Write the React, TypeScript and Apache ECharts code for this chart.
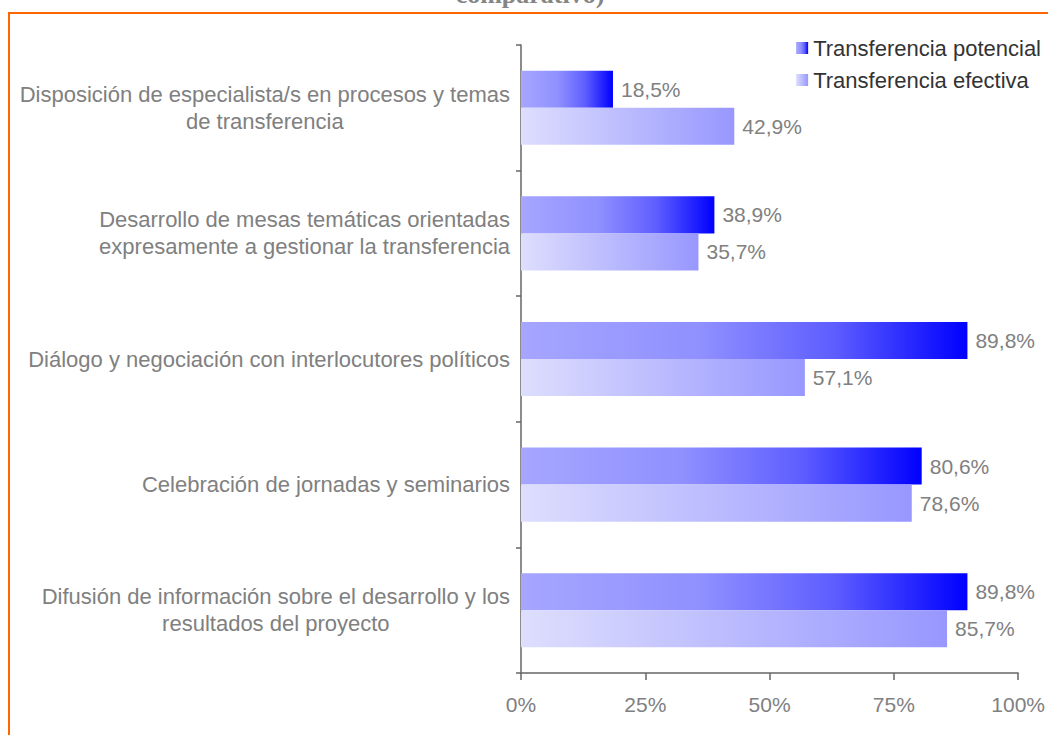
import React, { useEffect, useRef } from "react";
import * as echarts from "echarts";

// Categories from bottom to top (ECharts category axis goes upward)
const categories = [
  "Difusión de información sobre el desarrollo y los\nresultados del proyecto",
  "Celebración de jornadas y seminarios",
  "Diálogo y negociación con interlocutores políticos",
  "Desarrollo de mesas temáticas orientadas\nexpresamente a gestionar la transferencia",
  "Disposición de especialista/s en procesos y temas\nde transferencia",
];
const potencial = [89.8, 80.6, 89.8, 38.9, 18.5];
const efectiva = [85.7, 78.6, 57.1, 35.7, 42.9];
const xTicks = [0, 25, 50, 75, 100];
const seriesNames = ["Transferencia potencial", "Transferencia efectiva"];
const titleFragment = "comparativo)";

const fmtPct = (v: number) => v.toFixed(1).replace(".", ",") + "%";

export default function App() {
  const ref = useRef<HTMLDivElement>(null);
  useEffect(() => {
    if (!ref.current) return;
    const chart = echarts.init(ref.current, null, { renderer: "svg" });
    const font = "Liberation Sans";
    const gradPot = new echarts.graphic.LinearGradient(0, 0, 1, 0, [
      { offset: 0, color: "#a6a6ff" },
      { offset: 0.4, color: "#9090ff" },
      { offset: 0.7, color: "#5e5eff" },
      { offset: 1, color: "#0000ff" },
    ]);
    const gradEf = new echarts.graphic.LinearGradient(0, 0, 1, 0, [
      { offset: 0, color: "#dedefe" },
      { offset: 1, color: "#9797ff" },
    ]);
    const valueLabel = {
      show: true,
      position: "right",
      distance: 8,
      fontSize: 21,
      color: "#808080",
      fontFamily: font,
      formatter: (p: any) => fmtPct(p.value),
    };
    chart.setOption({
      animation: false,
      backgroundColor: "#ffffff",
      textStyle: { fontFamily: font },
      graphic: [
        {
          type: "rect",
          shape: { x: 9, y: 13, width: 1200, height: 900 },
          style: { fill: "none", stroke: "#ff6600", lineWidth: 2 },
          silent: true,
        },
        {
          type: "text",
          x: 530,
          y: 7,
          style: {
            text: titleFragment,
            fontFamily: "Liberation Serif",
            fontWeight: "bold",
            fontSize: 26,
            fill: "#858585",
            align: "center",
            verticalAlign: "bottom",
          },
          silent: true,
        },
      ],
      legend: {
        data: seriesNames,
        orient: "vertical",
        right: 2,
        top: 32,
        itemWidth: 12,
        itemHeight: 12,
        itemGap: 10,
        textStyle: { fontSize: 22, color: "#333333", fontFamily: font },
        icon: "rect",
      },
      grid: { left: 521, right: 29, top: 45, bottom: 62, containLabel: false },
      xAxis: {
        type: "value",
        min: 0,
        max: 100,
        interval: 25,
        axisLine: { show: true, lineStyle: { color: "#666666", width: 1.5 } },
        axisTick: { show: true, length: 7, lineStyle: { color: "#666666", width: 1.5 } },
        splitLine: { show: false },
        axisLabel: {
          margin: 21,
          fontSize: 21,
          color: "#808080",
          fontFamily: font,
          formatter: (v: number) => (xTicks.includes(v) ? v + "%" : ""),
        },
      },
      yAxis: {
        type: "category",
        data: categories,
        axisLine: { show: true, lineStyle: { color: "#666666", width: 1.5 } },
        axisTick: { show: true, length: 5, lineStyle: { color: "#666666", width: 1.5 } },
        axisLabel: {
          margin: 11,
          color: "#808080",
          fontSize: 22,
          lineHeight: 27,
          fontFamily: font,
          formatter: (v: string) =>
            v
              .split("\n")
              .map((l) => "{c|" + l + "}")
              .join("\n"),
          rich: {
            c: {
              align: "center",
              fontSize: 22,
              lineHeight: 27,
              color: "#808080",
              fontFamily: font,
            },
          },
        },
      },
      series: [
        {
          name: seriesNames[0],
          type: "bar",
          data: potencial,
          barGap: "0%",
          barCategoryGap: "41%",
          itemStyle: { color: gradPot },
          label: valueLabel,
        },
        {
          name: seriesNames[1],
          type: "bar",
          data: efectiva,
          barGap: "0%",
          barCategoryGap: "41%",
          itemStyle: { color: gradEf },
          label: valueLabel,
        },
      ],
    });
    return () => chart.dispose();
  }, []);
  return (
    <div
      ref={ref}
      style={{ position: "fixed", left: 0, top: 0, width: 1048, height: 735 }}
    />
  );
}
